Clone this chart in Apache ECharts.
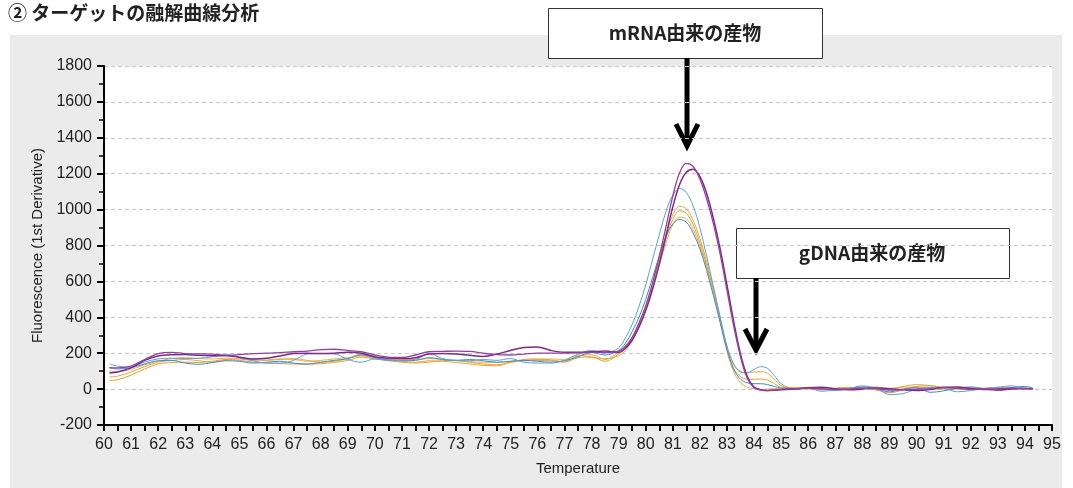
<!DOCTYPE html>
<html><head><meta charset="utf-8">
<script src="https://cdn.jsdelivr.net/npm/echarts@6/dist/echarts.min.js"></script>
<style>html,body{margin:0;padding:0;background:#fff}#c{width:1073px;height:488px}</style>
</head><body><div id="c"></div>
<script>
// Temperatures (°C) at which the curves were sampled
const temps = [60.2,60.5,61,61.5,62,62.5,63,63.5,64,64.5,65,65.5,66,66.5,67,67.5,68,68.5,69,69.5,70,70.5,71,71.5,72,72.5,73,73.5,74,74.5,75,75.5,76,76.5,77,77.5,78,78.5,
  79,79.25,79.5,79.75,80,80.25,80.5,80.75,81,81.25,81.5,81.75,82,82.25,82.5,82.75,83,83.25,83.5,83.75,84,84.25,84.5,84.75,85,
  85.5,86,86.5,87,87.5,88,88.5,89,89.5,90,90.5,91,91.5,92,92.5,93,93.5,94,94.3];

// Fluorescence (1st derivative) per sample
const purple1 = [120,118,128,165,198,205,198,196,195,188,192,198,200,203,208,212,220,222,215,208,190,178,176,190,208,210,212,210,200,192,190,195,200,200,200,202,205,205,
  212,238,288,368,465,590,740,905,1075,1205,1258,1240,1170,1060,920,750,550,350,180,60,8,-5,-8,-5,-2,
  3,5,2,-2,0,5,3,-5,-3,0,2,8,5,-2,0,2,6,3,2];
const purple2 = [90,95,118,160,185,192,193,188,186,186,178,168,172,185,198,200,198,200,205,200,180,172,170,175,195,198,195,188,182,195,215,232,235,215,205,205,208,212,
  205,228,272,345,438,555,695,855,1015,1140,1208,1225,1185,1090,950,780,580,375,195,70,12,-4,-8,-6,-3,
  0,8,10,2,-3,0,6,2,-4,-8,-2,10,12,3,-2,-5,0,4,2];
const blue1 = [140,128,122,150,168,172,170,172,180,192,175,158,145,145,160,195,198,196,165,150,168,160,160,165,198,170,160,158,165,160,170,150,145,145,160,195,215,200,
  230,285,360,460,580,720,860,990,1080,1118,1095,1020,900,740,570,400,240,140,95,90,110,125,115,75,30,
  0,5,-12,-5,3,18,5,-30,-25,0,10,5,-15,-8,2,10,18,5,3];
const blue2 = [118,112,120,140,158,160,145,138,148,158,155,145,150,155,145,140,150,160,170,190,175,162,158,160,175,165,160,165,158,150,155,160,155,150,158,180,205,190,
  215,255,320,400,500,620,740,850,920,945,930,870,780,660,520,370,220,110,55,35,30,30,25,15,5,
  2,10,5,-8,0,12,2,-15,0,8,-18,-10,5,12,3,-5,8,15,5];
const orange1 = [68,72,95,125,150,160,165,158,150,160,170,165,160,165,170,160,150,155,170,195,178,165,155,150,158,155,148,140,132,130,148,158,160,158,155,185,192,165,
  205,235,290,365,460,580,720,860,970,1018,1005,940,840,710,565,400,235,135,100,93,95,97,88,55,20,
  5,8,0,3,8,10,12,0,15,25,20,10,5,0,3,8,5,2,0];
const orange2 = [48,52,78,112,140,148,150,148,155,165,160,150,145,142,140,138,142,148,160,178,168,158,150,145,150,158,160,150,140,135,150,165,168,162,150,175,180,155,
  195,225,280,355,450,570,705,840,945,993,980,915,815,690,550,390,225,115,70,55,55,56,50,30,10,
  8,3,-2,5,10,5,-5,-20,-5,15,18,8,0,-3,5,10,3,0,2];
const orange3 = [100,98,110,135,155,170,175,170,168,172,168,160,162,168,165,155,160,168,175,185,172,168,165,165,170,165,158,152,150,148,155,160,165,168,165,190,175,170,
  185,215,270,345,440,555,690,815,915,958,950,890,795,675,535,375,210,95,35,10,2,-3,0,3,2,
  2,0,-5,0,5,2,8,5,10,12,5,-2,3,8,2,-3,0,5,3];

const seriesDefs = [
  {name:'orange3', data:orange3, color:'#e8b14e', w:1},
  {name:'orange2', data:orange2, color:'#e3a12e', w:1},
  {name:'orange1', data:orange1, color:'#e6a83c', w:1},
  {name:'blue2', data:blue2, color:'#3f8bcc', w:1},
  {name:'blue1', data:blue1, color:'#58a2dc', w:1},
  {name:'purple2', data:purple2, color:'#7d2a86', w:1.5},
  {name:'purple1', data:purple1, color:'#9440a0', w:1.3}
];

const chart = echarts.init(document.getElementById('c'), null, {renderer:'canvas'});
const tickFont = {fontFamily:'Liberation Sans, Arial, sans-serif', fontSize:16, color:'#222'};
const nameFont = {fontFamily:'Liberation Sans, Arial, sans-serif', fontSize:15, color:'#222'};
const cjk = "'Noto Sans CJK JP', sans-serif";

chart.setOption({
  backgroundColor:'#ebebeb',
  animation:false,
  grid:{left:104, right:21, top:66, bottom:63, show:true, backgroundColor:'#ffffff', borderWidth:0},
  xAxis:{
    type:'value', min:60, max:95, interval:1,
    name:'Temperature', nameLocation:'middle', nameGap:36, nameTextStyle:nameFont,
    axisLine:{show:true, onZero:false, lineStyle:{color:'#000', width:2}},
    axisTick:{show:true, length:6, lineStyle:{color:'#000', width:2}},
    minorTick:{show:true, splitNumber:2, length:6, lineStyle:{color:'#000', width:2}},
    axisLabel:Object.assign({margin:12, formatter:v=>String(v)}, tickFont),
    splitLine:{show:false}
  },
  yAxis:{
    type:'value', min:-200, max:1800, interval:200,
    name:'Fluorescence (1st Derivative)', nameLocation:'middle', nameGap:36, nameTextStyle:nameFont,
    axisLine:{show:true, onZero:false, lineStyle:{color:'#000', width:2}},
    axisTick:{show:true, length:7, lineStyle:{color:'#000', width:2}},
    minorTick:{show:true, splitNumber:2, length:5, lineStyle:{color:'#000', width:1.5}},
    axisLabel:Object.assign({margin:12, formatter:v=>String(v)}, tickFont),
    splitLine:{show:true, lineStyle:{color:'#c8c8c8', type:[4,3], width:1}}
  },
  series: seriesDefs.map(s => ({
    name:s.name, type:'line', showSymbol:false, symbol:'none', smooth:0.35,
    lineStyle:{color:s.color, width:s.w},
    data: temps.map((t,i)=>[t, s.data[i]])
  })),
  graphic:[
    {type:'rect', shape:{x:0,y:0,width:1073,height:35}, style:{fill:'#fff'}},
    {type:'rect', shape:{x:0,y:0,width:10,height:488}, style:{fill:'#fff'}},
    {type:'rect', shape:{x:1062,y:0,width:11,height:488}, style:{fill:'#fff'}},
    {type:'text', x:8, y:13, style:{text:'② ターゲットの融解曲線分析', font:"bold 19px "+cjk, fill:'#222', textVerticalAlign:'middle'}},
    {type:'rect', shape:{x:548.5,y:8.5,width:274,height:50}, style:{fill:'#fff', stroke:'#333', lineWidth:1}},
    {type:'text', x:685, y:33, style:{text:'mRNA由来の産物', font:"bold 19px "+cjk, fill:'#222', textAlign:'center', textVerticalAlign:'middle'}},
    {type:'line', shape:{x1:687,y1:58,x2:687,y2:144}, style:{stroke:'#000', lineWidth:5}},
    {type:'polyline', shape:{points:[[676,124],[687,146],[698,124]]}, style:{stroke:'#000', lineWidth:5, fill:null, lineJoin:'miter'}},
    {type:'rect', shape:{x:736.5,y:228.5,width:273,height:50}, style:{fill:'#fff', stroke:'#333', lineWidth:1}},
    {type:'text', x:872, y:253, style:{text:'gDNA由来の産物', font:"bold 19px "+cjk, fill:'#222', textAlign:'center', textVerticalAlign:'middle'}},
    {type:'line', shape:{x1:756,y1:278,x2:756,y2:348}, style:{stroke:'#000', lineWidth:5}},
    {type:'polyline', shape:{points:[[745,329],[756,350],[767,329]]}, style:{stroke:'#000', lineWidth:5, fill:null, lineJoin:'miter'}}
  ]
});
</script></body></html>
